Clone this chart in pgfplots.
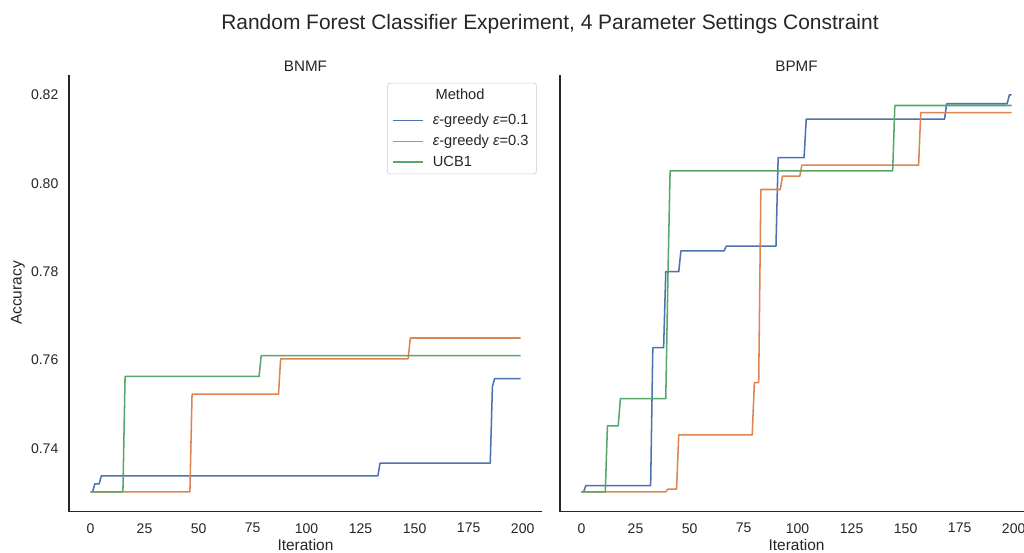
\documentclass[border=0pt]{standalone}
\usepackage{pgfplots}
\pgfplotsset{compat=1.18}
\usepackage{fontspec}
\setmainfont{Liberation Sans}

\definecolor{sbblue}{HTML}{4C72B0}
\definecolor{sborange}{HTML}{DD8452}
\definecolor{sbgreen}{HTML}{55A868}
\definecolor{ink}{HTML}{262626}
\definecolor{legframe}{HTML}{CCCCCC}

\pgfplotsset{
  panel/.style={
    scale only axis,
    width=354.75pt, height=327.5pt,
    xmin=-9.95, xmax=208.95,
    ymin=0.7257, ymax=0.8245,
    axis x line*=bottom, axis y line*=left,
    axis line style={ink, line width=0.95pt},
    xtick={0,25,...,200},
    ytick={0.74,0.76,0.78,0.80,0.82},
    major tick length=0pt,
    tick label style={font=\fontsize{10.5}{12}\selectfont, text=ink},
    xticklabel style={yshift=-5.2pt},
    yticklabel style={xshift=-4.5pt},
    /pgf/number format/assume math mode=true,
    yticklabel style={/pgf/number format/.cd, fixed, precision=2, fixed zerofill},
    xtick style={draw=none}, ytick style={draw=none},
    clip=false,
    every axis plot/.append style={line width=1.15pt, line join=round, mark=none},
  },
}

\begin{document}
\begin{tikzpicture}
\fill[white] (0,0) rectangle (768pt,414.75pt);

% BNMF panel
\begin{axis}[panel, at={(51.75pt,30.98pt)}, anchor=south west,
  legend style={at={(0.989,0.982)}, anchor=north east, draw=legframe,
    rounded corners=2pt, fill=white, font=\fontsize{11}{13}\selectfont,
    text=ink, row sep=2.2pt, column sep=4.5pt, inner xsep=4pt, inner ysep=2.2pt},
  legend cell align=left,
  legend image code/.code={\draw[#1, line width=1.15pt] (0pt,0pt) -- (22.5pt,0pt);},
]
\addlegendimage{empty legend}
\addlegendentry{\hspace{2pt}\raisebox{3.5pt}{Method}}
\addplot[sbblue] coordinates {(0,0.7302) (1,0.7302) (2,0.7320) (4,0.7320) (5,0.7338) (133,0.7338) (134,0.7367) (185,0.7367) (186,0.7540) (187,0.7558) (199,0.7558)};
\addlegendentry{{\itshape ε}-greedy {\itshape ε}=0.1}
\addplot[sborange] coordinates {(0,0.7302) (46,0.7302) (47,0.7523) (87,0.7523) (88,0.7603) (147,0.7603) (148,0.7650) (199,0.7650)};
\addlegendentry{{\itshape ε}-greedy {\itshape ε}=0.3}
\addplot[sbgreen] coordinates {(0,0.7302) (15,0.7302) (16,0.7563) (78,0.7563) (79,0.7610) (199,0.7610)};
\addlegendentry{UCB1}
\end{axis}

% BPMF panel
\begin{axis}[panel, at={(420pt,30.98pt)}, anchor=south west, yticklabels={}]
\addplot[sbblue] coordinates {(0,0.7302) (1,0.7302) (2,0.7316) (32,0.7316) (33,0.7628) (38,0.7628) (39,0.7800) (45,0.7800) (46,0.7847) (66,0.7847) (67,0.7858) (90,0.7858) (91,0.8058) (103,0.8058) (104,0.8145) (168,0.8145) (169,0.8180) (197,0.8180) (198,0.8200) (199,0.8200)};
\addplot[sborange] coordinates {(0,0.7302) (39,0.7302) (40,0.7308) (44,0.7308) (45,0.7431) (79,0.7431) (80,0.7549) (82,0.7549) (83,0.7986) (92,0.7986) (93,0.8016) (101,0.8016) (102,0.8041) (156,0.8041) (157,0.8160) (199,0.8160)};
\addplot[sbgreen] coordinates {(0,0.7302) (11,0.7302) (12,0.7451) (17,0.7451) (18,0.7513) (39,0.7513) (40,0.7790) (41,0.8028) (144,0.8028) (145,0.8176) (199,0.8176)};
\end{axis}

% titles and axis labels
\node[text=ink, font=\fontsize{15.7}{18}\selectfont] at (412.5pt,396.5pt) {Random Forest Classifier Experiment, 4 Parameter Settings Constraint};
\node[text=ink, font=\fontsize{11.4}{13}\selectfont, anchor=base] at (229.1pt,361pt) {BNMF};
\node[text=ink, font=\fontsize{11.4}{13}\selectfont, anchor=base] at (597.4pt,361pt) {BPMF};
\node[text=ink, font=\fontsize{11.6}{13}\selectfont, anchor=base] at (229.1pt,1.9pt) {Iteration};
\node[text=ink, font=\fontsize{11.6}{13}\selectfont, anchor=base] at (597.4pt,1.9pt) {Iteration};
\node[text=ink, font=\fontsize{11.6}{13}\selectfont, rotate=90] at (13.5pt,195pt) {Accuracy};

\pgfresetboundingbox
\useasboundingbox (0,0) rectangle (768pt,414.75pt);
\end{tikzpicture}
\end{document}
